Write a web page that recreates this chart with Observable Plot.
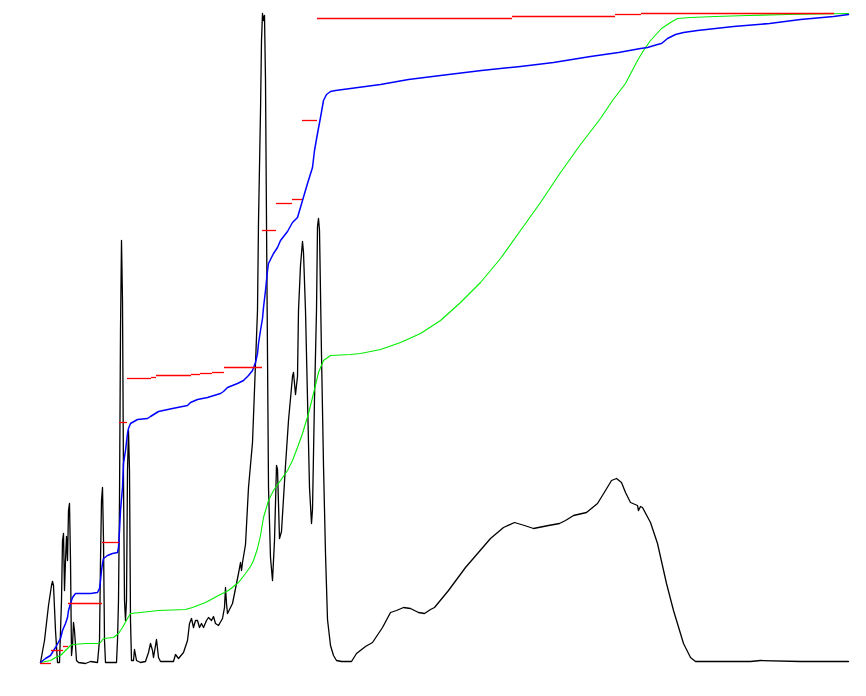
<!DOCTYPE html>
<html>
<head>
<meta charset="utf-8">
<script src="https://cdn.jsdelivr.net/npm/d3@7"></script>
<script src="https://cdn.jsdelivr.net/npm/@observablehq/plot@0.6"></script>
<style>
  html, body { margin: 0; padding: 0; background: #ffffff; }
  #chart svg { display: block; }
</style>
</head>
<body>
<div id="chart"></div>
<script>
// Signal trace (black)
const signalX = [0,4,8,11,12,13,15,17,19,21,22,23,24,25,26,27,28,29,30,31,32,33,34,36,38,45,50,57,59,60,61,62,63,64,65,70,76,77,78,79,80,81,82,83,84,85,86,87,88,89,90,91,93,94,96,100,105,108,110,112,113,115,116,118,120,133,135,138,143,147,149,151,153,155,157,159,161,163,166,168,171,173,175,178,182,184,185,186,187,192,195,198,200,201,202,205,208,212,215,217,218,220,221,222,223,224,225,226,227,228,230,232,234,236,237,239,241,245,248,252,253,255,257,258,260,262,263,265,267,269,271,272,274,276,277,278,279,281,283,285,287,290,293,296,301,311,316,325,332,342,350,356,363,370,378,384,390,394,408,425,450,463,474,484,493,508,519,525,533,546,557,565,571,576,581,585,590,597,598,600,602,610,617,626,633,643,650,655,710,720,760,808];
const signalY = [0,22,57,77,81,77,32,0,0,62,122,129,72,102,126,102,152,159,102,7,17,40,32,2,0,-1,1,0,22,102,162,175,122,22,0,0,0,22,62,162,332,422,362,182,62,42,62,192,232,192,42,2,2,13,2,0,1,10,19,12,5,17,23,5,1,1,8,4,10,22,39,44,35,42,42,35,39,35,42,45,42,46,39,37,44,55,75,59,49,59,74,89,100,92,100,118,175,220,299,352,441,551,622,649,642,647,582,441,308,175,105,82,122,197,193,124,131,197,242,286,290,268,286,352,397,421,410,352,264,175,139,153,264,352,436,444,432,308,197,109,43,17,7,2,1,1,9,16,20,35,50,52,55,54,50,49,53,55,72,95,124,135,140,137,134,137,139,142,147,150,159,172,182,184,180,170,160,157,152,156,155,140,119,79,52,19,5,1,1,2,1,1];

// Cumulative curve (blue)
const blueX = [0,5,10,15,20,22,25,27,28,30,32,35,40,50,57,59,60,61,62,63,67,72,77,78,79,80,82,83,85,87,88,90,97,107,110,118,132,147,150,157,167,180,183,187,197,203,208,212,215,217,218,220,222,223,225,227,228,230,233,237,240,247,252,257,262,267,272,274,277,280,283,286,290,295,310,340,368,400,441,480,513,550,578,600,607,617,621,627,635,643,657,693,729,760,793,808];
const blueY = [0,4,7,15,24,32,39,45,52,59,65,69,69,69,70,74,82,92,99,104,107,109,110,115,132,152,175,199,212,229,234,239,243,244,246,251,254,257,260,263,265,269,271,275,279,282,287,292,300,309,319,332,344,355,372,392,399,403,409,415,422,431,440,445,462,479,495,512,529,545,562,568,571,572,574,578,583,587,592,596,600,606,610,614,615,618,619,624,628,630,632,636,639,643,646,648];

// Cumulative curve (green)
const greenX = [0,10,15,20,23,27,30,33,45,57,60,63,73,78,82,87,90,100,118,145,152,165,178,188,198,205,210,213,217,220,223,228,233,240,247,252,257,262,268,273,278,283,290,310,320,340,360,380,400,420,440,460,480,500,520,540,560,572,585,597,603,610,621,630,637,650,675,707,747,808];
const greenY = [0,2,5,7,10,14,17,18,19,19,20,24,25,29,35,44,49,50,52,53,55,60,67,72,80,89,96,102,114,127,145,162,172,182,192,202,215,229,249,269,290,302,307,308,309,313,320,329,342,360,380,404,432,460,490,518,544,562,579,602,612,622,634,640,644,645,646,647,648,649];

// Step levels (red): start, end, level
const stepStart = [0,11,23,28,62,79,87,111,116,151,160,172,184,222,236,252,262,277,472,575,601];
const stepEnd   = [11,23,28,62,79,87,111,116,151,160,172,184,222,236,252,262,277,472,575,601,794];
const stepLevel = [-1,12,16,59,120,240,284,285,287,288,289,290,295,432,459,463,542,644,646,648,649];

const signal = signalX.map((x, i) => ({x, y: signalY[i]}));
const blue = blueX.map((x, i) => ({x, y: blueY[i]}));
const green = greenX.map((x, i) => ({x, y: greenY[i]}));
const steps = stepStart.map((s, i) => ({x1: s, x2: stepEnd[i], y: stepLevel[i]}));

const chart = Plot.plot({
  width: 866,
  height: 696,
  marginLeft: 40,
  marginRight: 18,
  marginTop: 12,
  marginBottom: 34,
  style: {background: "#ffffff"},
  x: {domain: [0, 808], axis: null},
  y: {domain: [0, 650], axis: null},
  marks: [
    Plot.line(signal, {x: "x", y: "y", stroke: "#000000", strokeWidth: 1.3}),
    Plot.line(green, {x: "x", y: "y", stroke: "#00ee00", strokeWidth: 1.1}),
    Plot.line(blue, {x: "x", y: "y", stroke: "#0000ff", strokeWidth: 1.5}),
    Plot.ruleY(steps, {y: "y", x1: "x1", x2: "x2", stroke: "#ff0000", strokeWidth: 1.3})
  ]
});
document.getElementById("chart").appendChild(chart);
</script>
</body>
</html>
